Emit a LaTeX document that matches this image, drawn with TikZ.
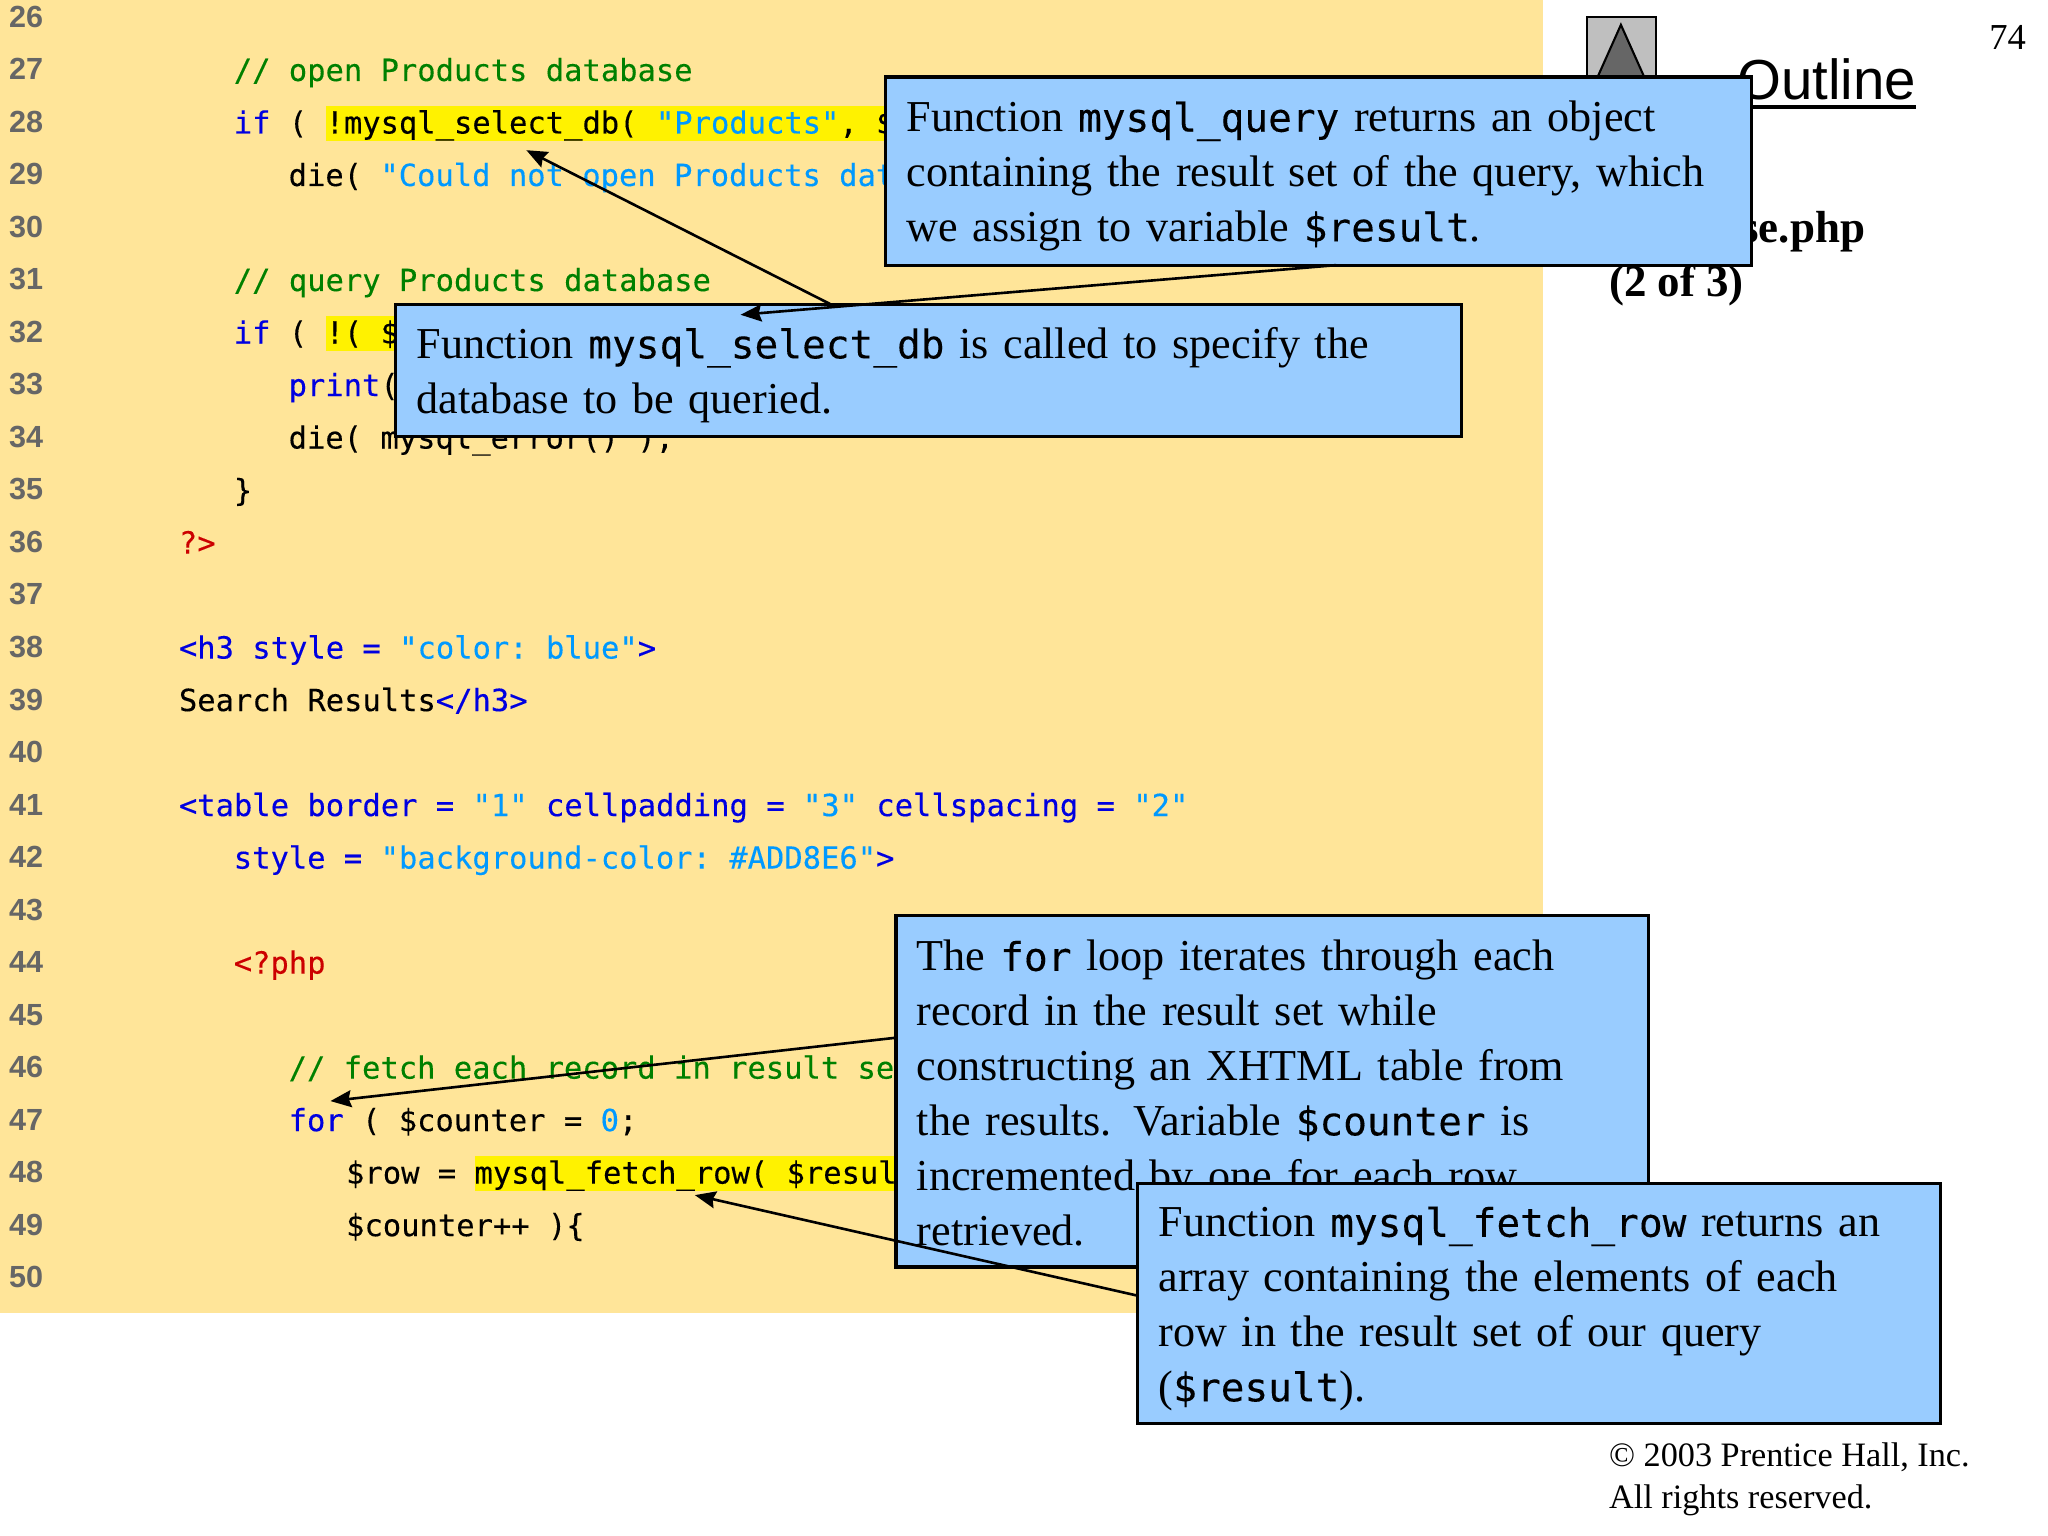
\documentclass[tikz,border=0pt]{standalone}
\usepackage{fontspec}
\usepackage{tikz}
\usetikzlibrary{arrows.meta}
\setmainfont{Liberation Serif}
\setmonofont[FakeBold=0.2]{DejaVu Sans Mono}
\newfontfamily\arialfont{Liberation Sans}
\definecolor{slidebg}{HTML}{FFE599}
\definecolor{boxblue}{HTML}{99CCFF}
\definecolor{kwblue}{HTML}{0000E0}
\definecolor{strblue}{HTML}{0099FF}
\definecolor{cmtgreen}{HTML}{008000}
\definecolor{phpred}{HTML}{CC0000}
\definecolor{numgray}{HTML}{666666}
\setlength{\fboxsep}{0pt}
\newcommand{\hl}[1]{\colorbox{yellow}{\rule[-2.8pt]{0pt}{13.2pt}#1}}
\newcommand{\kw}[1]{\textcolor{kwblue}{#1}}
\newcommand{\strg}[1]{\textcolor{strblue}{#1}}
\newcommand{\cmt}[1]{\textcolor{cmtgreen}{#1}}
\newcommand{\php}[1]{\textcolor{phpred}{#1}}
\newcommand{\boxtt}[1]{{\ttfamily\fontsize{15.1}{21}\selectfont #1}}
\tikzstyle{num} = [anchor=base west, text=numgray, font=\arialfont\bfseries\fontsize{11.7}{14}\selectfont]
\tikzstyle{code} = [anchor=base west, font=\ttfamily\fontsize{11.67}{14}\selectfont]
\tikzstyle{callout} = [draw, line width=1.2pt, fill=boxblue, anchor=north west, align=left, inner xsep=8pt, font=\fontsize{16.9}{21}\selectfont]
\tikzstyle{tip} = [line width=1pt, -{Stealth[length=8pt, width=6.5pt, inset=1pt]}]
\tikzset{drop/.style={execute at begin node={\rule{0pt}{#1}}}}

\begin{document}
\begin{tikzpicture}[x=.5pt, y=-.5pt, every node/.style={inner sep=0pt, outer sep=0pt}]
    \useasboundingbox (0,0) rectangle (1568,1176);
    \fill [slidebg] (0,0) rectangle (1181,1005);

    \draw (7,21) node[num] (n26) {26};
    \draw (7,61.2) node[num] (n27) {27};
    \draw (7,101.4) node[num] (n28) {28};
    \draw (7,141.6) node[num] (n29) {29};
    \draw (7,181.8) node[num] (n30) {30};
    \draw (7,222) node[num] (n31) {31};
    \draw (7,262.2) node[num] (n32) {32};
    \draw (7,302.4) node[num] (n33) {33};
    \draw (7,342.6) node[num] (n34) {34};
    \draw (7,382.8) node[num] (n35) {35};
    \draw (7,423) node[num] (n36) {36};
    \draw (7,463.2) node[num] (n37) {37};
    \draw (7,503.4) node[num] (n38) {38};
    \draw (7,543.6) node[num] (n39) {39};
    \draw (7,583.8) node[num] (n40) {40};
    \draw (7,624) node[num] (n41) {41};
    \draw (7,664.2) node[num] (n42) {42};
    \draw (7,704.4) node[num] (n43) {43};
    \draw (7,744.6) node[num] (n44) {44};
    \draw (7,784.8) node[num] (n45) {45};
    \draw (7,825) node[num] (n46) {46};
    \draw (7,865.2) node[num] (n47) {47};
    \draw (7,905.4) node[num] (n48) {48};
    \draw (7,945.6) node[num] (n49) {49};
    \draw (7,985.8) node[num] (n50) {50};

    \draw (179,62) node[code] (l27) {\cmt{// open Products database}};
    \draw (179,102.2) node[code] (l28) {\kw{if} ( \hl{!mysql\_select\_db( \strg{"Products"}, \$}};
    \draw (221,142.4) node[code] (l29) {die( \strg{"Could not open Products dat}};
    \draw (179,222.8) node[code] (l31) {\cmt{// query Products database}};
    \draw (179,263) node[code] (l32) {\kw{if} ( \hl{!( \$}};
    \draw (221,303.2) node[code] (l33) {\kw{print}(};
    \draw (221,343.4) node[code] (l34) {die( mysql\_error() );};
    \draw (179,383.6) node[code] (l35) {\}};
    \draw (137,423.8) node[code] (l36) {\php{?>}};
    \draw (137,504.2) node[code] (l38) {\kw{<h3 style =} \strg{"color: blue"}\kw{>}};
    \draw (137,544.4) node[code] (l39) {Search Results\kw{</h3>}};
    \draw (137,624.8) node[code] (l41) {\kw{<table border =} \strg{"1"} \kw{cellpadding =} \strg{"3"} \kw{cellspacing =} \strg{"2"}};
    \draw (179,665) node[code] (l42) {\kw{style =} \strg{"background-color: \#ADD8E6"}\kw{>}};
    \draw (179,745.4) node[code] (l44) {\php{<?php}};
    \draw (221,825.8) node[code] (l46) {\cmt{// fetch each record in result se}};
    \draw (221,866) node[code] (l47) {\kw{for} ( \$counter = \strg{0};};
    \draw (265,906.2) node[code] (l48) {\$row = \hl{mysql\_fetch\_row( \$resul}};
    \draw (265,946.4) node[code] (l49) {\$counter++ )\{};

    \draw [line width=1pt, fill=gray!50] (1215,13) rectangle (1268,66);
    \draw [line width=.8pt, fill=numgray] (1241,19) -- (1220,66) -- (1262,66) -- cycle;
    \draw (1330,76) node[anchor=base west, font=\arialfont\fontsize{21.6}{26}\selectfont] (outline) {Outline};
    \draw [line width=1.5pt] ([yshift=-3pt]outline.base west) -- ([yshift=-3pt]outline.base east);
    \draw (1551,38) node[anchor=base east, font=\fontsize{14}{17}\selectfont] (page) {74};
    \draw (1232,227) node[anchor=base west, align=left, font=\bfseries\fontsize{17.2}{20.5}\selectfont] (file) {database.php\\(2 of 3)};
    \draw (1232,1155) node[anchor=base west, align=left, font=\fontsize{13.1}{16}\selectfont] (copy) {\textcopyright{} 2003 Prentice Hall, Inc.\\All rights reserved.};

    \coordinate (seltip) at (403,115);
    \coordinate (querytip) at (567,241);
    \coordinate (fortip) at (253,843);
    \coordinate (rowtip) at (532,915);

    \draw (303,233) node[callout, drop=15.5pt, text width=392pt, minimum height=50.5pt] (selbox) {Function \boxtt{mysql\_select\_db} is called to specify the\\database to be queried.};
    \draw [tip] ([xshift=-37.5pt]selbox.north) -- (seltip);
    \draw (678,59) node[callout, drop=15.5pt, text width=315.5pt, minimum height=72pt] (querybox) {Function \boxtt{mysql\_query} returns an object\\containing the result set of the query, which\\we assign to variable \boxtt{\$result}.};
    \draw [tip] ([xshift=6.75pt]querybox.south) -- (querytip);

    \draw (686,701) node[callout, drop=13pt, text width=272pt, minimum height=134.5pt] (forbox) {The \boxtt{for} loop iterates through each\\record in the result set while\\constructing an XHTML table from\\the results. Variable \boxtt{\$counter} is\\incremented by one for each row\\retrieved.};
    \draw [tip] ([yshift=20.5pt]forbox.west) -- (fortip);
    \draw (871,906) node[callout, drop=15.5pt, text width=291.5pt, minimum height=92pt] (rowbox) {Function \boxtt{mysql\_fetch\_row} returns an\\array containing the elements of each\\row in the result set of our query\\(\boxtt{\$result}).};
    \draw [tip] ([yshift=3pt]rowbox.west) -- (rowtip);
\end{tikzpicture}
\end{document}
